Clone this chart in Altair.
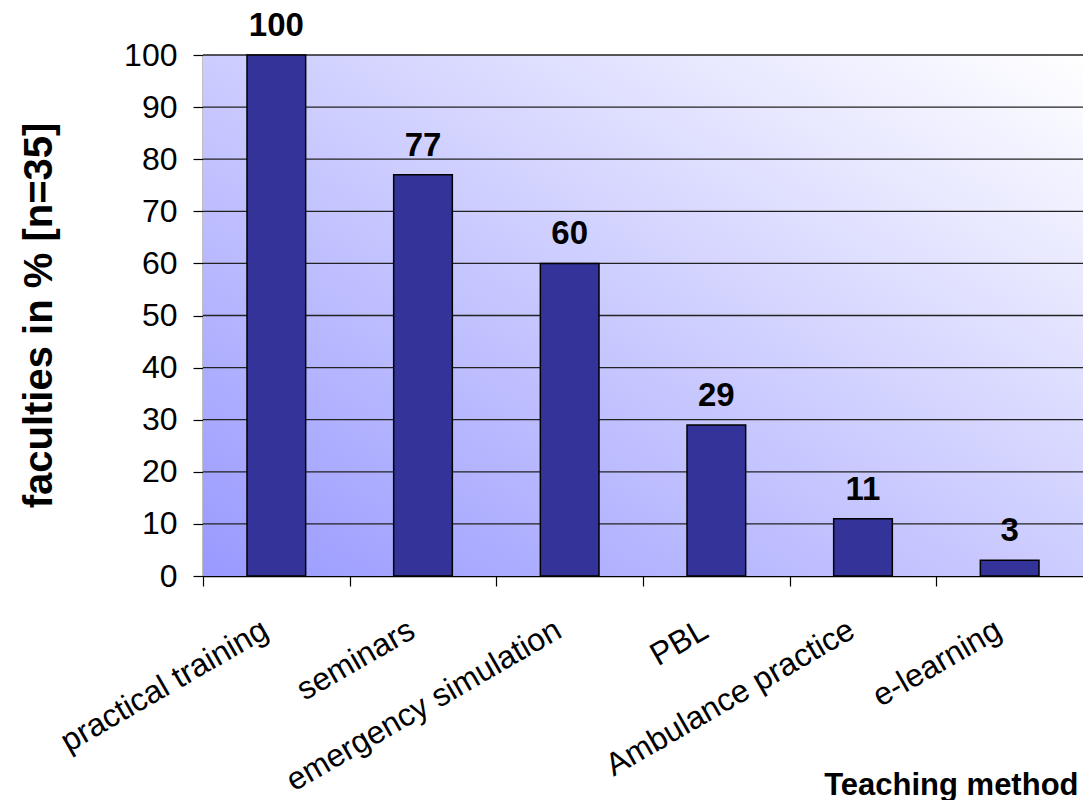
import altair as alt
import pandas as pd

# Teaching methods used by the faculties and the share (%) of faculties using each
methods = ["practical training", "seminars", "emergency simulation", "PBL",
           "Ambulance practice", "e-learning"]
percent = [100, 77, 60, 29, 11, 3]
y_ticks = [0, 10, 20, 30, 40, 50, 60, 70, 80, 90, 100]

df = pd.DataFrame({"method": methods, "percent": percent})
grid_df = pd.DataFrame({"percent": y_ticks[1:]})
bg_df = pd.DataFrame({"a": [0]})

W, H = 880, 521
FONT = "Liberation Sans"
STEP = W / len(methods)

x_scale = alt.Scale(domain=methods, paddingInner=0.6, paddingOuter=0.3)
y_scale = alt.Scale(domain=[0, 100], nice=False)

# ticks sit on the category boundaries, labels hang below each category
x_axis = alt.Axis(
    title="Teaching method", titleFont=FONT, titleFontSize=31, titleFontWeight="bold",
    titleColor="black", titleAnchor="end", titleAlign="right", titleBaseline="alphabetic",
    titleX=875, titleY=218,
    labelAngle=330, labelAlign="right", labelBaseline="top", labelFont=FONT,
    labelFontSize=32, labelColor="black", labelOffset=STEP / 2 - 19, labelPadding=28,
    labelOverlap=False, labelLimit=500,
    tickOffset=-STEP / 2, tickSize=10, tickColor="black", tickWidth=1.2,
    domainColor="black", domainWidth=1.5, grid=False,
)

y_axis = alt.Axis(
    values=y_ticks, title="faculties in % [n=35]", titleFont=FONT, titleFontSize=40,
    titleFontWeight="bold", titleColor="black", titleAngle=270, titleBaseline="bottom",
    titleAlign="center", titleX=-144, titleY=260,
    labelFont=FONT, labelFontSize=32, labelColor="black", labelPadding=16,
    tickSize=10, tickColor="black", tickWidth=1.2,
    domainColor="black", domainWidth=1.5, grid=False,
)

# diagonal blue-to-white fill of the plot area
background = alt.Chart(bg_df).mark_rect(
    fill=alt.Gradient(
        gradient="linear",
        stops=[alt.GradientStop(color="#9999ff", offset=0),
               alt.GradientStop(color="#ffffff", offset=1)],
        x1=0, y1=1, x2=1, y2=0,
    )
).encode(x=alt.value(0), x2=alt.value(W), y=alt.value(0), y2=alt.value(H))

gridlines = alt.Chart(grid_df).mark_rule(color="#222222", strokeWidth=1.3).encode(
    y=alt.Y("percent:Q", scale=y_scale, axis=y_axis),
    x=alt.value(0), x2=alt.value(W),
)

bars = alt.Chart(df).mark_bar(color="#333399", stroke="black", strokeWidth=1.5).encode(
    x=alt.X("method:N", scale=x_scale, axis=x_axis, sort=methods),
    y=alt.Y("percent:Q", scale=y_scale, axis=y_axis),
)

values = alt.Chart(df).mark_text(
    font=FONT, fontSize=33, fontWeight="bold", color="black",
    baseline="alphabetic", align="center", dy=-19,
).encode(
    x=alt.X("method:N", scale=x_scale, axis=x_axis, sort=methods),
    y=alt.Y("percent:Q", scale=y_scale, axis=y_axis),
    text=alt.Text("percent:Q"),
)

chart = alt.layer(background, gridlines, bars, values).properties(
    width=W, height=H,
    autosize=alt.AutoSizeParams(type="none"),
    padding={"left": 203, "top": 55, "right": 0, "bottom": 224},
    background="white",
).configure_view(stroke=None)

chart.save("out.html", embed_options={"renderer": "svg", "actions": False})
